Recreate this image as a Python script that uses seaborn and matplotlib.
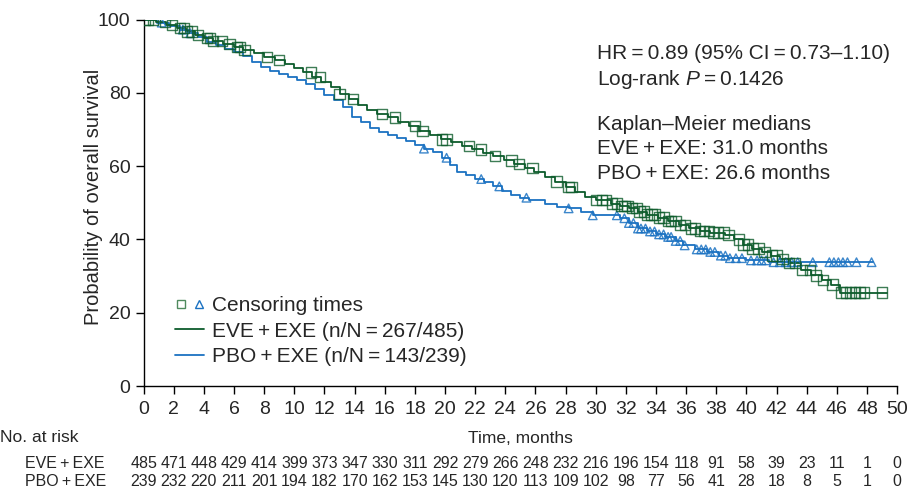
import numpy as np
import pandas as pd
import seaborn as sns
import matplotlib.pyplot as plt
from matplotlib.lines import Line2D
from matplotlib.legend_handler import HandlerTuple

# Kaplan-Meier step values (months, % surviving)
eve_t = [0, 0.8, 1.5, 2.2, 2.8, 3.4, 4.0, 4.6, 5.3, 6.0, 6.6, 7.3, 8.0, 8.7, 9.4,
         10.0, 10.6, 11.2, 11.8, 12.4, 13.0, 13.6, 14.2, 14.8, 15.5, 16.2, 16.9,
         17.6, 18.3, 19.0, 19.7, 20.4, 21.1, 21.8, 22.5, 23.2, 23.9, 24.6, 25.3,
         25.9, 26.6, 27.3, 28.0, 28.6, 29.3, 30.0, 31.0, 31.6, 32.2, 32.8, 33.4,
         34.1, 34.8, 35.5, 36.2, 36.9, 37.6, 38.6, 39.2, 39.8, 40.4, 41.0, 41.6,
         42.2, 42.8, 43.6, 44.3, 45.0, 45.6, 46.2, 49.3]
eve_s = [100, 99.3, 98.5, 97.8, 96.8, 95.9, 95.0, 94.1, 93.4, 92.5, 91.7, 90.8, 89.8,
         89.0, 88.0, 86.8, 85.6, 84.4, 82.9, 81.5, 79.8, 78.3, 76.8, 75.4, 74.3,
         73.3, 72.2, 70.9, 69.6, 68.5, 67.3, 66.5, 65.5, 64.6, 63.7, 62.7, 61.6,
         60.6, 59.5, 58.3, 57.0, 55.8, 54.4, 53.0, 51.6, 50.8, 49.8, 49.2, 48.5,
         47.6, 46.8, 46.0, 45.0, 44.0, 43.0, 42.3, 41.9, 41.2, 40.0, 38.6, 37.5,
         36.6, 35.6, 34.7, 33.5, 31.7, 30.2, 29.0, 27.7, 25.5, 25.5]

pbo_t = [0, 0.9, 1.7, 2.4, 3.0, 3.6, 4.2, 4.8, 5.4, 6.0, 6.6, 7.2, 7.8, 8.4, 9.0,
         9.6, 10.2, 10.8, 11.4, 12.0, 12.6, 13.2, 13.8, 14.4, 15.0, 15.6, 16.2,
         16.8, 17.4, 18.0, 18.6, 19.2, 19.8, 20.3, 20.8, 21.4, 22.0, 22.6, 23.2,
         23.8, 24.4, 25.0, 25.6, 26.6, 27.4, 28.2, 29.0, 29.8, 31.6, 32.2, 32.8,
         33.4, 34.0, 34.6, 35.3, 35.8, 36.6, 37.4, 38.2, 38.8, 40.0, 41.5, 48.4]
pbo_s = [100, 99.2, 98.3, 97.3, 96.3, 95.2, 94.0, 93.0, 92.0, 91.2, 90.2, 88.5, 87.0,
         86.0, 85.2, 84.3, 83.4, 82.4, 81.0, 79.4, 78.0, 76.3, 73.5, 72.2, 70.3,
         69.3, 68.5, 67.6, 66.8, 65.8, 64.8, 63.8, 62.3, 60.2, 58.5, 57.5, 56.5,
         55.6, 54.5, 53.3, 52.2, 51.4, 50.8, 49.6, 49.0, 48.5, 47.4, 46.6, 45.8,
         44.5, 43.0, 42.2, 41.4, 40.7, 39.6, 38.4, 37.3, 36.6, 35.6, 34.9, 34.3,
         33.8, 33.8]

# censoring times (months)
eve_cens = [0.1, 0.3, 0.6, 1.4, 1.9, 2.4, 2.7, 2.9, 3.2, 3.6, 4.2, 4.4, 4.6, 5.2,
            5.7, 6.2, 6.4, 6.7, 8.2, 9.0, 11.1, 11.7, 13.0, 13.9, 15.8, 16.7, 18.0,
            18.5, 19.8, 20.1, 21.6, 22.4, 23.3, 24.4, 24.9, 25.8, 27.4, 28.2, 28.4,
            30.0, 30.4, 30.7, 31.1, 31.4, 31.7, 31.9, 32.1, 32.4, 32.7, 32.9, 33.2,
            33.4, 33.7, 33.9, 34.2, 34.5, 34.8, 35.0, 35.3, 35.6, 35.9, 36.3, 36.6,
            36.9, 37.2, 37.5, 37.8, 38.1, 38.5, 38.8, 39.5, 39.8, 40.1, 40.4, 40.8,
            41.2, 41.7, 42.0, 42.4, 42.8, 43.2, 43.7, 44.2, 44.6, 45.1, 45.7, 46.3,
            46.6, 46.9, 47.2, 47.5, 47.8, 49.0]
pbo_cens = [1.2, 2.6, 3.1, 18.6, 20.1, 22.4, 23.6, 25.4, 28.2, 29.8, 31.4, 31.9, 32.2,
            32.5, 32.8, 33.0, 33.3, 33.6, 33.9, 34.2, 34.5, 34.8, 35.0, 35.3, 35.6,
            35.9, 36.7, 37.0, 37.3, 37.6, 37.9, 38.3, 38.6, 38.9, 39.3, 39.7, 40.3,
            40.7, 41.0, 41.3, 41.8, 42.2, 42.6, 43.0, 43.4, 44.4, 45.5, 45.8, 46.1,
            46.4, 46.7, 47.3, 48.3]

risk_times = list(range(0, 51, 2))
eve_risk = [485, 471, 448, 429, 414, 399, 373, 347, 330, 311, 292, 279, 266, 248, 232,
            216, 196, 154, 118, 91, 58, 39, 23, 11, 1, 0]
pbo_risk = [239, 232, 220, 211, 201, 194, 182, 170, 162, 153, 145, 130, 120, 113, 109,
            102, 98, 77, 56, 41, 28, 18, 8, 5, 1, 0]

green = '#0d5c2c'
blue = '#1b72c2'
ts = '\u2009'

sns.set_theme(style='ticks')
plt.rcParams['font.family'] = ['Liberation Sans', 'DejaVu Sans']
plt.rcParams['mathtext.fontset'] = 'custom'
plt.rcParams['mathtext.it'] = 'Liberation Sans:italic'
plt.rcParams['mathtext.rm'] = 'Liberation Sans'


def at_time(times, surv, cens):
    idx = np.searchsorted(times, cens, side='right') - 1
    return np.asarray(surv)[idx]


fig = plt.figure(figsize=(9.09, 4.92), dpi=100)
ax = fig.add_axes([0.158, 0.2154, 0.829, 0.7446])

sns.lineplot(x=pbo_t, y=pbo_s, drawstyle='steps-post', estimator=None,
             color=blue, lw=1.3, ax=ax)
sns.lineplot(x=eve_t, y=eve_s, drawstyle='steps-post', estimator=None,
             color=green, lw=1.3, ax=ax)

df_pc = pd.DataFrame({'t': pbo_cens, 's': at_time(pbo_t, pbo_s, pbo_cens)})
df_ec = pd.DataFrame({'t': eve_cens, 's': at_time(eve_t, eve_s, eve_cens)})
sns.scatterplot(data=df_pc, x='t', y='s', marker='^', s=38, facecolor='none',
                edgecolor=blue, linewidth=1.0, alpha=0.85, ax=ax, zorder=3)
sns.scatterplot(data=df_ec, x='t', y='s', marker='s', s=55, facecolor='none',
                edgecolor=green, linewidth=1.0, alpha=0.8, ax=ax, zorder=4)

ax.set_xlim(0, 50)
ax.set_ylim(0, 100)
ax.set_xticks(risk_times)
ax.set_yticks([0, 20, 40, 60, 80, 100])
ax.tick_params(labelsize=14, length=6, width=1, color='black')
ax.tick_params(axis='x', pad=4.5)
for sp in ['left', 'bottom']:
    ax.spines[sp].set_color('black')
    ax.spines[sp].set_linewidth(1)
sns.despine(ax=ax)
ax.set_ylabel('Probability of overall survival', fontsize=14.5)
ax.yaxis.set_label_coords(-0.054, 0.516)
ax.set_xlabel('Time, months', fontsize=12.5, labelpad=10)
ax.margins(0)

# annotations
notes = [(90.9, f'HR{ts}={ts}0.89 (95% CI{ts}={ts}0.73–1.10)'),
         (83.8, f'Log-rank $P${ts}={ts}0.1426'),
         (71.5, 'Kaplan–Meier medians'),
         (64.7, f'EVE{ts}+{ts}EXE: 31.0 months'),
         (58.1, f'PBO{ts}+{ts}EXE: 26.6 months')]
for yv, txt in notes:
    ax.text(30.1, yv, txt, fontsize=15, va='center', ha='left')

# legend
cens_handle = (Line2D([], [], marker='s', ls='none', mfc='none', mec='#4f8a5e', ms=6, mew=1),
               Line2D([], [], marker='^', ls='none', mfc='none', mec=blue, ms=6, mew=1))
handles = [cens_handle,
           Line2D([], [], color=green, lw=1.3),
           Line2D([], [], color=blue, lw=1.3)]
labels = ['Censoring times',
          f'EVE{ts}+{ts}EXE (n/N{ts}={ts}267/485)',
          f'PBO{ts}+{ts}EXE (n/N{ts}={ts}143/239)']
ax.legend(handles, labels, handler_map={tuple: HandlerTuple(ndivide=None, pad=0.3)},
          loc='lower left', bbox_to_anchor=(0.042, 0.055), frameon=False, fontsize=15,
          handlelength=1.4, handletextpad=0.35, labelspacing=0.3, borderpad=0,
          borderaxespad=0)

# number at risk table
fig.text(0.0, 1 - 437 / 492, 'No. at risk', fontsize=12.5, va='center', ha='left')
fig.text(0.027, 1 - 464 / 492, f'EVE{ts}+{ts}EXE', fontsize=11.5, va='center', ha='left')
fig.text(0.027, 1 - 482 / 492, f'PBO{ts}+{ts}EXE', fontsize=11.5, va='center', ha='left')
trans = ax.get_xaxis_transform()
for t, a, b in zip(risk_times, eve_risk, pbo_risk):
    ax.text(t, -(464 - 386) / 366.5, str(a), transform=trans, fontsize=11.5,
            ha='center', va='center', clip_on=False)
    ax.text(t, -(482 - 386) / 366.5, str(b), transform=trans, fontsize=11.5,
            ha='center', va='center', clip_on=False)

fig.savefig('out.png', dpi=100)
